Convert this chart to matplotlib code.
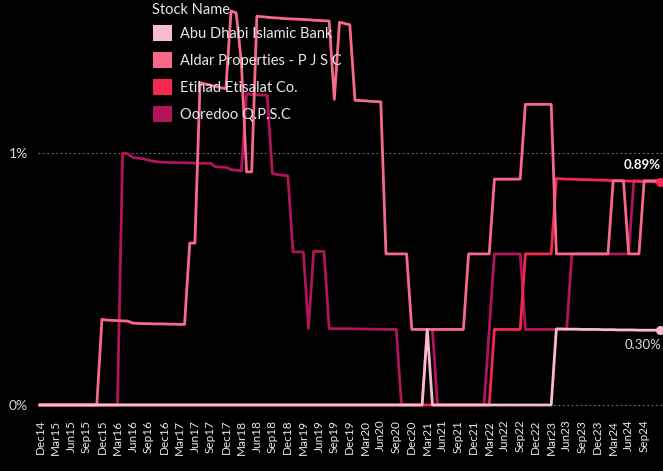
import numpy as np
import pandas as pd
import matplotlib
matplotlib.use('Agg')
import matplotlib.pyplot as plt
from matplotlib.patches import Patch

plt.rcParams['font.family'] = ['Lato', 'DejaVu Sans']

# monthly weights in % (Dec 2014 .. Dec 2024), one row per year starting in December
months = pd.date_range('2014-12-01', periods=121, freq='MS')

stock_names = ['Abu Dhabi Islamic Bank', 'Aldar Properties - P J S C',
               'Etihad Etisalat Co.', 'Ooredoo Q.P.S.C']
colors = ['#f9bbd0', '#f7698a', '#f5284f', '#b0155a']

abu_dhabi = [
    0, 0, 0, 0, 0, 0, 0, 0, 0, 0, 0, 0,
    0, 0, 0, 0, 0, 0, 0, 0, 0, 0, 0, 0,
    0, 0, 0, 0, 0, 0, 0, 0, 0, 0, 0, 0,
    0, 0, 0, 0, 0, 0, 0, 0, 0, 0, 0, 0,
    0, 0, 0, 0, 0, 0, 0, 0, 0, 0, 0, 0,
    0, 0, 0, 0, 0, 0, 0, 0, 0, 0, 0, 0,
    0, 0, 0, 0.30, 0, 0, 0, 0, 0, 0, 0, 0,
    0, 0, 0, 0, 0, 0, 0, 0, 0, 0, 0, 0,
    0, 0, 0, 0, 0.302, 0.302, 0.301, 0.301, 0.301, 0.300, 0.300, 0.300,
    0.300, 0.299, 0.299, 0.299, 0.298, 0.298, 0.298, 0.298, 0.297, 0.297, 0.297, 0.297,
    0.297,
]

aldar = [
    0, 0, 0, 0, 0, 0, 0, 0, 0, 0, 0, 0,
    0.34, 0.337, 0.336, 0.335, 0.334, 0.333, 0.325, 0.324, 0.323, 0.323, 0.322, 0.322,
    0.322, 0.321, 0.321, 0.32, 0.32, 0.643, 0.643, 1.28, 1.275, 1.27, 1.265, 1.26,
    1.256, 1.565, 1.557, 1.36, 0.926, 0.926, 1.544, 1.542, 1.54, 1.538, 1.537, 1.535,
    1.534, 1.533, 1.532, 1.531, 1.53, 1.528, 1.527, 1.526, 1.525, 1.214, 1.52, 1.515,
    1.51, 1.21, 1.209, 1.208, 1.206, 1.205, 1.204, 0.60, 0.60, 0.60, 0.60, 0.60,
    0.30, 0.30, 0.30, 0.30, 0.30, 0.30, 0.30, 0.30, 0.30, 0.30, 0.30, 0.60,
    0.60, 0.60, 0.60, 0.60, 0.897, 0.897, 0.897, 0.897, 0.897, 0.897, 1.194, 1.194,
    1.194, 1.194, 1.194, 1.194, 0.60, 0.60, 0.60, 0.60, 0.60, 0.60, 0.60, 0.60,
    0.60, 0.60, 0.60, 0.89, 0.89, 0.89, 0.60, 0.60, 0.60, 0.89, 0.89, 0.89,
    0.89,
]

etihad = [
    0, 0, 0, 0, 0, 0, 0, 0, 0, 0, 0, 0,
    0, 0, 0, 0, 0, 0, 0, 0, 0, 0, 0, 0,
    0, 0, 0, 0, 0, 0, 0, 0, 0, 0, 0, 0,
    0, 0, 0, 0, 0, 0, 0, 0, 0, 0, 0, 0,
    0, 0, 0, 0, 0, 0, 0, 0, 0, 0, 0, 0,
    0, 0, 0, 0, 0, 0, 0, 0, 0, 0, 0, 0,
    0, 0, 0, 0, 0, 0, 0, 0, 0, 0, 0, 0,
    0, 0, 0, 0, 0.30, 0.30, 0.30, 0.30, 0.30, 0.30, 0.60, 0.60,
    0.60, 0.60, 0.60, 0.60, 0.899, 0.898, 0.897, 0.897, 0.896, 0.895, 0.895, 0.894,
    0.893, 0.893, 0.892, 0.891, 0.891, 0.890, 0.889, 0.889, 0.888, 0.887, 0.887, 0.886,
    0.886,
]

ooredoo = [
    0, 0, 0, 0, 0, 0, 0, 0, 0, 0, 0, 0,
    0, 0, 0, 0, 1.0, 0.998, 0.983, 0.98, 0.978, 0.972, 0.968, 0.965,
    0.964, 0.963, 0.963, 0.962, 0.962, 0.961, 0.961, 0.96, 0.96, 0.96, 0.946, 0.945,
    0.944, 0.935, 0.932, 0.93, 1.236, 1.233, 1.232, 1.231, 1.23, 0.92, 0.915, 0.912,
    0.91, 0.608, 0.608, 0.608, 0.304, 0.61, 0.61, 0.61, 0.304, 0.303, 0.303, 0.303,
    0.303, 0.302, 0.302, 0.302, 0.301, 0.301, 0.301, 0.30, 0.30, 0.30, 0, 0,
    0, 0, 0, 0.30, 0.30, 0, 0, 0, 0, 0, 0, 0,
    0, 0, 0, 0.30, 0.60, 0.60, 0.60, 0.60, 0.60, 0.60, 0.30, 0.30,
    0.30, 0.30, 0.30, 0.30, 0.30, 0.30, 0.30, 0.60, 0.60, 0.60, 0.60, 0.60,
    0.60, 0.60, 0.60, 0.60, 0.60, 0.60, 0.60, 0.89, 0.89, 0.89, 0.89, 0.89,
    0.89,
]

series = [abu_dhabi, aldar, etihad, ooredoo]
labelled = [0, 2]  # series that get an end value label
label_offsets = [-11, 12]

x = np.arange(len(months))
tick_pos = np.arange(0, 118, 3)
tick_labels = [d.strftime('%b%y') for d in months[tick_pos]]

fig = plt.figure(figsize=(6.63, 4.71), dpi=100, facecolor='black')
ax = fig.add_axes([0.0572, 0.1295, 0.9424, 0.866], facecolor='black')

# draw last legend entry first so the lighter lines sit on top
for i in reversed(range(len(series))):
    ax.plot(x, series[i], color=colors[i], lw=2.0, zorder=3 + (3 - i))

for i, off in zip(labelled, label_offsets):
    v = series[i][-1]
    ax.plot(x[-1], v, 'o', color=colors[i], ms=5.5, zorder=10)
    ax.annotate(f'{v:.2f}%', (x[-1], v), xytext=(1, off), textcoords='offset points',
                ha='right', va='center', color='white' if i == 2 else '#dddddd',
                fontsize=9.5, fontweight='bold' if i == 2 else 'normal')

ax.set_xlim(-0.4, 120.6)
ax.set_ylim(-0.02, 1.6)
ax.set_yticks([0, 1])
ax.set_yticklabels(['0%', '1%'])
ax.set_xticks(tick_pos)
ax.set_xticklabels(tick_labels, rotation=90)
ax.tick_params(axis='x', length=0, pad=7, labelsize=8.5, labelcolor='#e8e8e8')
ax.tick_params(axis='y', length=0, pad=7, labelsize=10, labelcolor='#d8d8d8')
ax.yaxis.grid(True, linestyle=(0, (1.5, 2.5)), color='#777777', lw=0.8, zorder=1)
for s in ax.spines.values():
    s.set_visible(False)

fig.text(152 / 663, 1 - 10 / 471, 'Stock Name', ha='left', va='center',
         fontsize=10.5, color='#e8e8e8')
handles = [Patch(facecolor=c, edgecolor='none') for c in colors]
fig.legend(handles, stock_names, loc='upper left',
           bbox_to_anchor=(146 / 663, 1 - 18 / 471), frameon=False,
           fontsize=10.5, labelcolor='#e8e8e8',
           handlelength=1.3, handleheight=1.3, handletextpad=0.5,
           labelspacing=0.75, borderpad=0)

fig.savefig('out.png', dpi=100, facecolor='black')
